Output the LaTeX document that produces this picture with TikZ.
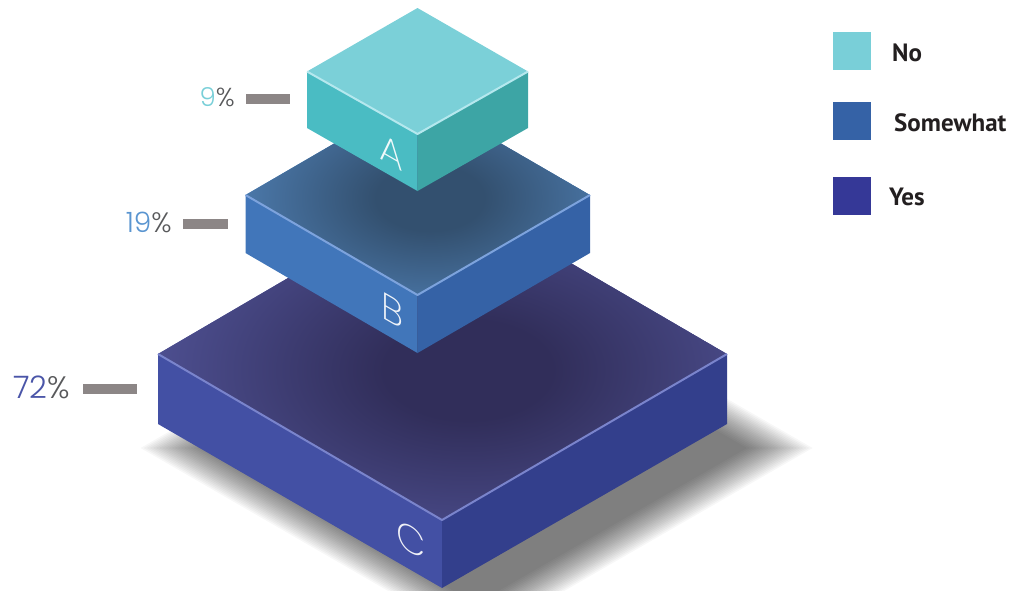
\documentclass[tikz,border=0pt]{standalone}
\usepackage{fontspec}
\setmainfont{PT Sans}
\newfontfamily\thinfont{Poppins}[UprightFont={* Light}]
\newfontfamily\xthinfont{Poppins}[UprightFont={* ExtraLight}]
\usetikzlibrary{calc}
\definecolor{aTop}{HTML}{7BD0D8}
\definecolor{aLeft}{HTML}{4ABCC3}
\definecolor{aRight}{HTML}{3DA5A5}
\definecolor{aHi}{HTML}{B5E8EE}
\definecolor{bLight}{HTML}{5A91CE}
\definecolor{bDark}{HTML}{33506F}
\definecolor{bLeft}{HTML}{4176BA}
\definecolor{bRight}{HTML}{3562A6}
\definecolor{bHi}{HTML}{7DA3DD}
\definecolor{cLight}{HTML}{5A5EA9}
\definecolor{cDark}{HTML}{312E5A}
\definecolor{cLeft}{HTML}{4350A4}
\definecolor{cRight}{HTML}{333F8C}
\definecolor{cHi}{HTML}{7A84CC}
\definecolor{barGray}{HTML}{8C8686}
\definecolor{pctGray}{HTML}{58595B}
\definecolor{legNo}{HTML}{79CFD8}
\definecolor{legSome}{HTML}{3562A6}
\definecolor{legYes}{HTML}{353897}
\definecolor{legText}{HTML}{231F20}
\definecolor{numA}{HTML}{79CFD8}
\definecolor{numB}{HTML}{5A95D0}
\definecolor{numC}{HTML}{4A55A8}
\pgfdeclareradialshading{topC}{\pgfpoint{0bp}{0bp}}{color(0bp)=(cDark); color(5bp)=(cDark); color(25bp)=(cLight); color(50bp)=(cLight)}
\pgfdeclareradialshading{topB}{\pgfpoint{0bp}{0bp}}{color(0bp)=(bDark); color(5bp)=(bDark); color(25bp)=(bLight); color(50bp)=(bLight)}
\tikzset{
  pct/.style={font=\thinfont\fontsize{#1}{#1}\selectfont, color=pctGray, inner sep=0pt},
  bar/.style={fill=barGray},
  letter/.style={font=\xthinfont\fontsize{38}{38}\selectfont, color=white, opacity=0.92, inner sep=0pt, yslant=-0.58},
  legtext/.style={font=\bfseries\fontsize{25}{25}\selectfont, color=legText, inner sep=0pt, anchor=base west},
  hiline/.style={line width=2pt, line join=round}
}
\begin{document}
\begin{tikzpicture}[x=1pt,y=-1pt]
\useasboundingbox (0,0) rectangle (1011,590);
% soft shadow of C
\foreach \k in {0,...,21}{
  \pgfmathsetmacro{\s}{0.95+0.011*\k}
  \begin{scope}[shift={(476,448)}, scale=\s]
    \fill[black, opacity=0.032] (-284,0) -- (0,164) -- (285,0) -- (0,-164) -- cycle;
  \end{scope}
}
% box C
\coordinate (CT) at (442,188); \coordinate (CL) at (158,354); \coordinate (CR) at (727,354); \coordinate (CF) at (442,520);
\coordinate (CLb) at (158,424); \coordinate (CFb) at (442,588); \coordinate (CRb) at (727,424);
\fill[cLeft] (CL) -- (CF) -- (CFb) -- (CLb) -- cycle;
\fill[cRight] (CF) -- (CR) -- (CRb) -- (CFb) -- cycle;
\begin{scope}
  \clip (CT) -- (CR) -- (CF) -- (CL) -- cycle;
  \fill[cLight] (CT) -- (CR) -- (CF) -- (CL) -- cycle;
  \shade[shading=topC] (468,370) ellipse [x radius=420, y radius=250];
\end{scope}
\draw[cHi, hiline] (CL) -- (CF) -- (CR);
% box B
\coordinate (BT) at (417.5,95); \coordinate (BL) at (245.5,195); \coordinate (BR) at (590,195); \coordinate (BF) at (417.5,295);
\coordinate (BLb) at (245.5,253); \coordinate (BFb) at (417.5,353); \coordinate (BRb) at (590,253);
\fill[bLeft] (BL) -- (BF) -- (BFb) -- (BLb) -- cycle;
\fill[bRight] (BF) -- (BR) -- (BRb) -- (BFb) -- cycle;
\begin{scope}
  \clip (BT) -- (BR) -- (BF) -- (BL) -- cycle;
  \fill[bLight] (BT) -- (BR) -- (BF) -- (BL) -- cycle;
  \shade[shading=topB] (430,198) ellipse [x radius=270, y radius=165];
\end{scope}
\draw[bHi, hiline] (BL) -- (BF) -- (BR);
% box A
\coordinate (AT) at (417.5,8); \coordinate (AL) at (307,71.5); \coordinate (AR) at (528,71.5); \coordinate (AF) at (417.5,134);
\coordinate (ALb) at (307,128); \coordinate (AFb) at (417.5,191); \coordinate (ARb) at (528,128);
\fill[aLeft] (AL) -- (AF) -- (AFb) -- (ALb) -- cycle;
\fill[aRight] (AF) -- (AR) -- (ARb) -- (AFb) -- cycle;
\fill[aTop] (AT) -- (AR) -- (AF) -- (AL) -- cycle;
\draw[aHi, hiline] (AL) -- (AF) -- (AR);
% face letters
\begin{scope}[shift={(391,152)}] \node[letter] (la) at (0,0) {A}; \end{scope}
\begin{scope}[shift={(392,311)}] \node[letter] (lb) at (0,0) {B}; \end{scope}
\begin{scope}[shift={(411,540)}] \node[letter] (lc) at (0,0) {C}; \end{scope}
% percentages and bars
\node[pct=26, anchor=base east] (pa) at (235,106) {\textcolor{numA}{9}\%};
\fill[bar] (246,93.5) rectangle (290,104);
\node[pct=28, anchor=base east] (pb) at (172,232) {\textcolor{numB}{19}\%};
\fill[bar] (183,218.5) rectangle (228,229);
\node[pct=31, anchor=base east] (pc) at (70,398) {\textcolor{numC}{72}\%};
\fill[bar] (83,383.5) rectangle (137,394);
% legend
\fill[legNo] (833,32) rectangle (871,70);
\fill[legSome] (833,102) rectangle (871,140);
\fill[legYes] (833,177) rectangle (871,215);
\node[legtext] (ln) at (892,61.5) {No};
\node[legtext] (ls) at (894,131.5) {Somewhat};
\node[legtext] (ly) at (889,205) {Yes};
\end{tikzpicture}
\end{document}
